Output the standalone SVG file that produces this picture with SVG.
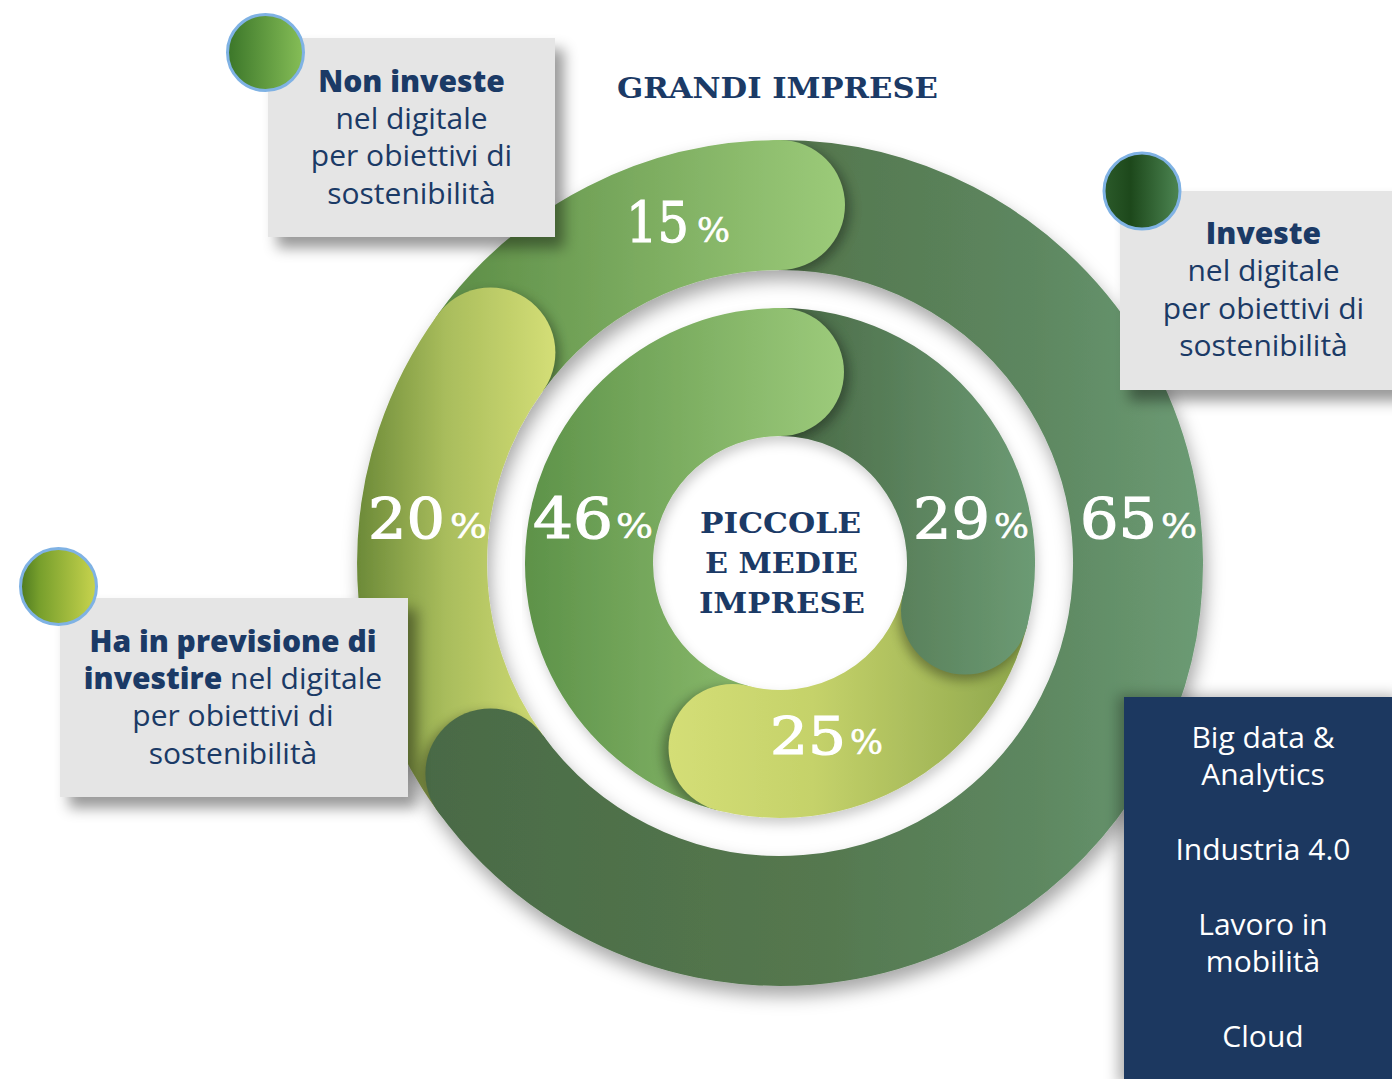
<svg xmlns="http://www.w3.org/2000/svg" width="1392" height="1079" viewBox="0 0 1392 1079">
<style>
.lbl{font-family:"Open Sans","Liberation Sans",sans-serif;font-size:30px;font-weight:500;fill:#1b3a66;text-anchor:middle}
.b{font-weight:800}
.wt{font-family:"Open Sans","Liberation Sans",sans-serif;font-size:30px;font-weight:500;fill:#ffffff;text-anchor:middle}
.pct{font-family:"DejaVu Serif","Liberation Serif",serif;font-size:56px;fill:#ffffff;stroke:#ffffff;stroke-width:1.2}
.pc{font-family:"DejaVu Serif","Liberation Serif",serif;font-size:34px;fill:#ffffff;stroke:#ffffff;stroke-width:0.6}
.ttl{font-family:"DejaVu Serif","Liberation Serif",serif;font-weight:700;font-size:27px;fill:#1b3a66}
.box{fill:#e5e5e5;filter:url(#boxSh)}
.dot{stroke:#7fb2e4;stroke-width:3}
.seg{fill:none}
.cs{fill:#000;opacity:0.35;filter:url(#blur)}
</style>
<defs>
<filter id="boxSh" x="-20%" y="-20%" width="150%" height="150%">
<feDropShadow dx="9" dy="11" stdDeviation="7" flood-color="#000" flood-opacity="0.4"/>
</filter>
<filter id="blueSh" x="-20%" y="-20%" width="150%" height="150%">
<feDropShadow dx="-6" dy="-2" stdDeviation="7" flood-color="#000" flood-opacity="0.3"/>
</filter>
<filter id="ringSh" x="-15%" y="-15%" width="130%" height="135%">
<feDropShadow dx="3" dy="10" stdDeviation="9" flood-color="#000" flood-opacity="0.35"/>
</filter>
<filter id="innerSh" x="-15%" y="-15%" width="130%" height="135%">
<feDropShadow dx="2" dy="6" stdDeviation="6" flood-color="#000" flood-opacity="0.2"/>
</filter>
<filter id="blur" x="-50%" y="-50%" width="200%" height="200%">
<feGaussianBlur stdDeviation="6"/>
</filter>
<linearGradient id="gOutDark" gradientUnits="userSpaceOnUse" x1="357" y1="0" x2="1203" y2="0">
<stop offset="0" stop-color="#486844"/><stop offset="0.55" stop-color="#55784f"/><stop offset="0.8" stop-color="#5d8760"/><stop offset="1" stop-color="#6c9b74"/>
</linearGradient>
<linearGradient id="gOutLight" gradientUnits="userSpaceOnUse" x1="430" y1="0" x2="845" y2="0">
<stop offset="0" stop-color="#5a8b45"/><stop offset="1" stop-color="#9ccb79"/>
</linearGradient>
<linearGradient id="gOutYel" gradientUnits="userSpaceOnUse" x1="357" y1="0" x2="555" y2="0">
<stop offset="0" stop-color="#6c8a38"/><stop offset="0.45" stop-color="#a9bd5c"/><stop offset="1" stop-color="#d4de76"/>
</linearGradient>
<linearGradient id="gInMed" gradientUnits="userSpaceOnUse" x1="525" y1="0" x2="845" y2="0">
<stop offset="0" stop-color="#5d9249"/><stop offset="1" stop-color="#9dcb7b"/>
</linearGradient>
<linearGradient id="gInDark" gradientUnits="userSpaceOnUse" x1="780" y1="0" x2="1035" y2="0">
<stop offset="0" stop-color="#486844"/><stop offset="1" stop-color="#6c9b74"/>
</linearGradient>
<linearGradient id="gInYel" gradientUnits="userSpaceOnUse" x1="668" y1="0" x2="1030" y2="0">
<stop offset="0" stop-color="#d4de76"/><stop offset="0.4" stop-color="#c5d26a"/><stop offset="1" stop-color="#8da64c"/>
</linearGradient>
<linearGradient id="dNon" x1="0" y1="0" x2="1" y2="0">
<stop offset="0" stop-color="#3b7629"/><stop offset="1" stop-color="#86be57"/>
</linearGradient>
<linearGradient id="dInv" x1="0" y1="0" x2="1" y2="0">
<stop offset="0" stop-color="#2b5a2a"/><stop offset="0.35" stop-color="#1d481b"/><stop offset="1" stop-color="#4d8653"/>
</linearGradient>
<linearGradient id="dHa" x1="0" y1="0" x2="1" y2="0">
<stop offset="0" stop-color="#4e7a20"/><stop offset="0.25" stop-color="#779f2c"/><stop offset="1" stop-color="#c8d44e"/>
</linearGradient>
<clipPath id="cO1"><path d="M780,140 A423,423 0 0 1 1177.5,418.3 L1055.3,462.8 A293,293 0 0 0 780,270 Z"/></clipPath>
<clipPath id="cO2"><path d="M437.8,811.6 A423,423 0 0 1 413.7,351.5 L526.3,416.5 A293,293 0 0 0 543,735.2 Z"/></clipPath>
<clipPath id="cO3"><path d="M437.8,314.4 A423,423 0 0 1 780,140 L780,270 A293,293 0 0 0 543,390.8 Z"/></clipPath>
<clipPath id="cI1"><path d="M780,308 A255,255 0 0 1 1019.6,475.8 L899.3,519.6 A127,127 0 0 0 780,436 Z"/></clipPath>
<clipPath id="cI2"><path d="M1027,626.4 A255,255 0 0 1 824.3,814.1 L802.1,688.1 A127,127 0 0 0 903,594.6 Z"/></clipPath>
<clipPath id="cI3"><path d="M716.6,810 A255,255 0 0 1 528.9,607.3 L654.9,585.1 A127,127 0 0 0 748.4,686 Z"/></clipPath>
</defs>
<rect x="0" y="0" width="1392" height="1079" fill="#ffffff"/>

<g id="ring-grandi" filter="url(#ringSh)">
<path class="seg" d="M780,205 A358,358 0 1 1 490.4,773.4" stroke="url(#gOutDark)" stroke-width="130"/>
<path class="seg" d="M490.4,773.4 A358,358 0 0 1 490.4,352.6" stroke="url(#gOutYel)" stroke-width="130"/>
<path class="seg" d="M490.4,352.6 A358,358 0 0 1 780,205" stroke="url(#gOutLight)" stroke-width="130"/>
<g clip-path="url(#cO1)"><circle class="cs" cx="785" cy="209" r="65"/></g>
<circle cx="780" cy="205" r="65" fill="url(#gOutLight)"/>
<g clip-path="url(#cO2)"><circle class="cs" cx="485" cy="778" r="65"/></g>
<circle cx="490.4" cy="773.4" r="65" fill="url(#gOutDark)"/>
<g clip-path="url(#cO3)"><circle class="cs" cx="495" cy="357" r="65"/></g>
<circle cx="490.4" cy="352.6" r="65" fill="url(#gOutYel)"/>
</g>

<g id="ring-pmi" filter="url(#innerSh)">
<path class="seg" d="M780,372 A191,191 0 0 1 965,610.5" stroke="url(#gInDark)" stroke-width="128"/>
<path class="seg" d="M965,610.5 A191,191 0 0 1 732.5,748" stroke="url(#gInYel)" stroke-width="128"/>
<path class="seg" d="M732.5,748 A191,191 0 0 1 780,372" stroke="url(#gInMed)" stroke-width="128"/>
<g clip-path="url(#cI1)"><circle class="cs" cx="785" cy="376" r="64"/></g>
<circle cx="780" cy="372" r="64" fill="url(#gInMed)"/>
<g clip-path="url(#cI2)"><circle class="cs" cx="963" cy="616" r="64"/></g>
<circle cx="965" cy="610.5" r="64" fill="url(#gInDark)"/>
<g clip-path="url(#cI3)"><circle class="cs" cx="727" cy="752" r="64"/></g>
<circle cx="732.5" cy="748" r="64" fill="url(#gInYel)"/>
</g>

<g id="percentages">
<text class="pct" x="626" y="242" textLength="63" lengthAdjust="spacingAndGlyphs">15</text><text class="pc" x="697" y="242" textLength="33" lengthAdjust="spacingAndGlyphs">%</text>
<text class="pct" x="368" y="538" textLength="77" lengthAdjust="spacingAndGlyphs">20</text><text class="pc" x="450" y="538" textLength="37" lengthAdjust="spacingAndGlyphs">%</text>
<text class="pct" x="533" y="538" textLength="80" lengthAdjust="spacingAndGlyphs">46</text><text class="pc" x="616" y="538" textLength="37" lengthAdjust="spacingAndGlyphs">%</text>
<text class="pct" x="913" y="538" textLength="77" lengthAdjust="spacingAndGlyphs">29</text><text class="pc" x="994" y="538" textLength="35" lengthAdjust="spacingAndGlyphs">%</text>
<text class="pct" x="1080" y="538" textLength="77" lengthAdjust="spacingAndGlyphs">65</text><text class="pc" x="1161" y="538" textLength="36" lengthAdjust="spacingAndGlyphs">%</text>
<text class="pct" x="770" y="754" textLength="76" lengthAdjust="spacingAndGlyphs" style="font-size:52px">25</text><text class="pc" x="850" y="754" textLength="33" lengthAdjust="spacingAndGlyphs">%</text>
</g>

<g id="title-grandi">
<text class="ttl" x="617" y="98" textLength="321" lengthAdjust="spacingAndGlyphs">GRANDI IMPRESE</text>
</g>
<g id="title-pmi">
<text class="ttl" x="700" y="533" textLength="161" lengthAdjust="spacingAndGlyphs">PICCOLE</text>
<text class="ttl" x="705" y="573" textLength="153" lengthAdjust="spacingAndGlyphs">E MEDIE</text>
<text class="ttl" x="699" y="613" textLength="166" lengthAdjust="spacingAndGlyphs">IMPRESE</text>
</g>

<g id="legend-non-investe">
<rect class="box" x="268" y="38" width="287" height="199"/>
<circle class="dot" cx="265.5" cy="52.5" r="38" fill="url(#dNon)"/>
<text class="lbl b" x="411.5" y="92">Non investe</text>
<text class="lbl" x="411.5" y="129">nel digitale</text>
<text class="lbl" x="411.5" y="166">per obiettivi di</text>
<text class="lbl" x="411.5" y="204">sostenibilità</text>
</g>

<g id="legend-investe">
<rect class="box" x="1120" y="191" width="280" height="199"/>
<circle class="dot" cx="1142" cy="191" r="38" fill="url(#dInv)"/>
<text class="lbl b" x="1263.5" y="244">Investe</text>
<text class="lbl" x="1263.5" y="281">nel digitale</text>
<text class="lbl" x="1263.5" y="319">per obiettivi di</text>
<text class="lbl" x="1263.5" y="356">sostenibilità</text>
</g>

<g id="legend-previsione">
<rect class="box" x="60" y="598" width="348" height="199"/>
<circle class="dot" cx="58.5" cy="586.5" r="38" fill="url(#dHa)"/>
<text class="lbl b" x="233" y="652">Ha in previsione di</text>
<text class="lbl" x="233" y="689"><tspan class="b">investire</tspan> nel digitale</text>
<text class="lbl" x="233" y="726">per obiettivi di</text>
<text class="lbl" x="233" y="764">sostenibilità</text>
</g>

<g id="ambiti">
<rect x="1124" y="697" width="280" height="390" fill="#1c3861" filter="url(#blueSh)"/>
<text class="wt" x="1263" y="748">Big data &amp;</text>
<text class="wt" x="1263" y="785">Analytics</text>
<text class="wt" x="1263" y="860">Industria 4.0</text>
<text class="wt" x="1263" y="935">Lavoro in</text>
<text class="wt" x="1263" y="972">mobilità</text>
<text class="wt" x="1263" y="1047">Cloud</text>
</g>
</svg>
